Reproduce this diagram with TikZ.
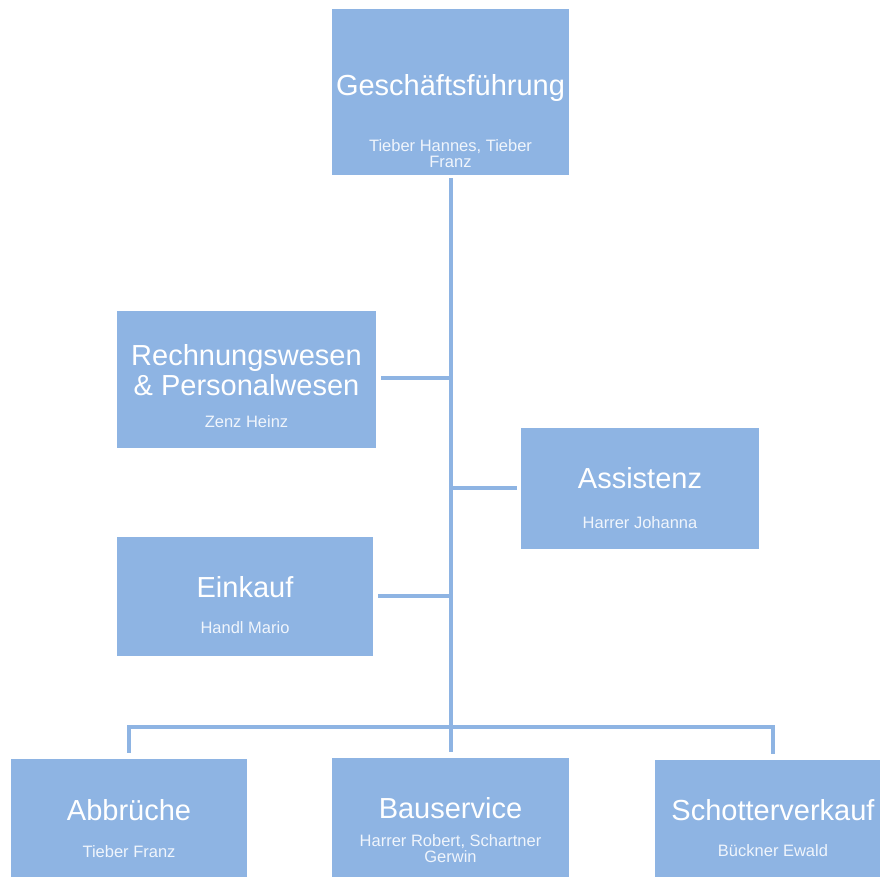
\documentclass[tikz,border=0pt]{standalone}
\usepackage{fontspec}
\setmainfont{Liberation Sans}
\usetikzlibrary{positioning,calc}
\definecolor{orgblue}{HTML}{8EB4E3}
\definecolor{subwhite}{HTML}{F0F5FC}

\begin{document}
\begin{tikzpicture}[x=1pt, y=-1pt,
    orgbox/.style={rectangle, fill=orgblue, inner sep=0pt},
    depname/.style={text=white, font=\fontsize{29}{30}\selectfont, align=center, inner sep=0pt},
    depperson/.style={text=subwhite, font=\fontsize{16.5}{16}\selectfont, align=center, inner sep=0pt},
    conn/.style={draw=orgblue, line width=4pt}]
    \useasboundingbox (0,0) rectangle (880,877);
    \clip (0,0) rectangle (880,877);

    % Boxes
    \node [orgbox, minimum width=237pt, minimum height=166pt] (gf) at (450.5,92) {};
    \node [orgbox, minimum width=259pt, minimum height=137pt] (rw) at (246.5,379.5) {};
    \node [orgbox, minimum width=238pt, minimum height=121pt] (as) at (640,488.5) {};
    \node [orgbox, minimum width=256pt, minimum height=119pt] (ek) at (245,596.5) {};
    \node [orgbox, minimum width=236pt, minimum height=166pt] (ab) at (129,842) {};
    \node [orgbox, minimum width=237pt, minimum height=166pt] (bs) at (450.5,841) {};
    \node [orgbox, minimum width=236pt, minimum height=166pt] (sv) at (773,843) {};

    % Texts
    \node [depname, anchor=base] (gf-name) at (450.5,96) {Geschäftsführung};
    \node [depperson] (gf-person) at (450.5,154) {Tieber Hannes, Tieber\\Franz};
    \node [depname] (rw-name) at (246.5,370.5) {Rechnungswesen\\\& Personalwesen};
    \node [depperson, anchor=base] (rw-person) at (246.5,427) {Zenz Heinz};
    \node [depname, anchor=base] (as-name) at (640,488) {Assistenz};
    \node [depperson, anchor=base] (as-person) at (640,528) {Harrer Johanna};
    \node [depname, anchor=base] (ek-name) at (245,597) {Einkauf};
    \node [depperson, anchor=base] (ek-person) at (245,633) {Handl Mario};
    \node [depname, anchor=base] (ab-name) at (129,820) {Abbrüche};
    \node [depperson, anchor=base] (ab-person) at (129,857) {Tieber Franz};
    \node [depname, anchor=base] (bs-name) at (450.5,818) {Bauservice};
    \node [depperson] (bs-person) at (450.5,849) {Harrer Robert, Schartner\\Gerwin};
    \node [depname, anchor=base] (sv-name) at (773,820) {Schotterverkauf};
    \node [depperson, anchor=base] (sv-person) at (773,856) {Bückner Ewald};

    % Lines
    \coordinate (rw-joint) at (gf.south |- 0,378);
    \coordinate (as-joint) at (gf.south |- 0,488);
    \coordinate (ek-joint) at (gf.south |- 0,596);
    \coordinate (bus) at (gf.south |- 0,727);
    \draw [conn, shorten <=3pt, shorten >=6pt] (gf.south) -- (bs.north);
    \draw [conn, shorten >=5pt] (rw-joint) -- (rw-joint -| rw.east);
    \draw [conn, shorten >=4pt] (as-joint) -- (as-joint -| as.west);
    \draw [conn, shorten >=5pt] (ek-joint) -- (ek-joint -| ek.east);
    \draw [conn, shorten >=6pt] (bus) -| (ab.north);
    \draw [conn, shorten >=6pt] (bus) -| (sv.north);
\end{tikzpicture}
\end{document}
